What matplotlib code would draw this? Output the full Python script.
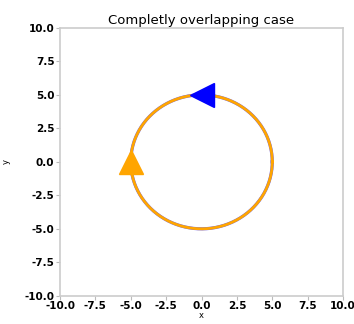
import numpy as np
import matplotlib
matplotlib.use('Agg')
import matplotlib.pyplot as plt

# circle traced twice: once per trajectory
radius = 5.0
n_points = 400
blue_head = (0.0, 5.0)
orange_head = (-5.0, 0.0)
ticks = [-10.0, -7.5, -5.0, -2.5, 0.0, 2.5, 5.0, 7.5, 10.0]

theta = np.linspace(0, 2 * np.pi, n_points)
cx = radius * np.cos(theta)
cy = radius * np.sin(theta)

fig = plt.figure(figsize=(3.54, 3.24), dpi=100)
ax = fig.add_axes([0.1695, 0.087, 0.7995, 0.827])

ax.plot(cx, cy, color='blue', lw=2.3, alpha=0.6)
ax.plot(cx, cy, color='orange', lw=2.0)
ax.plot(*blue_head, marker='<', color='blue', markersize=17, ls='none')
ax.plot(*orange_head, marker='^', color='orange', markersize=17, ls='none')

ax.set_xlim(-10, 10)
ax.set_ylim(-10, 10)
ax.set_xticks(ticks)
ax.set_yticks(ticks)
ax.set_xticklabels(['%.1f' % t for t in ticks], fontweight='bold', fontsize=7.5)
ax.set_yticklabels(['%.1f' % t for t in ticks], fontweight='bold', fontsize=7.5)
ax.tick_params(colors='#bbbbbb', labelcolor='black', length=3, width=0.8, pad=1)
for s in ax.spines.values():
    s.set_color('#cccccc')
    s.set_linewidth(1.2)

ax.set_xlabel('x', fontsize=6, labelpad=0)
ax.set_ylabel('y', fontsize=6, labelpad=10)
ax.set_title('Completly overlapping case', fontsize=9.5, pad=3)

fig.savefig('out.png', dpi=100)
